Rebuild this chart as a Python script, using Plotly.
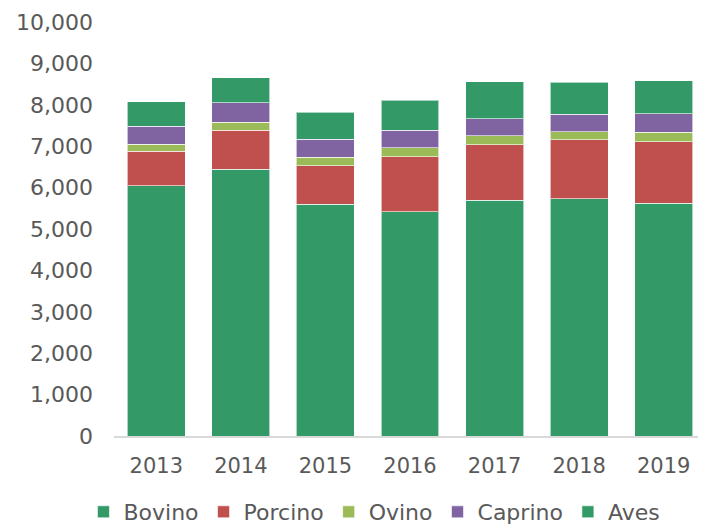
import plotly.graph_objects as go

years = ["2013", "2014", "2015", "2016", "2017", "2018", "2019"]
bovino = [6039, 6449, 5597, 5418, 5700, 5725, 5621]
porcino = [845, 942, 932, 1328, 1336, 1425, 1488]
ovino = [162, 186, 203, 211, 218, 200, 234]
caprino = [435, 474, 435, 434, 410, 421, 435]
aves = [594, 604, 652, 718, 894, 772, 804]

series = [
    ("Bovino", bovino, "#339966"),
    ("Porcino", porcino, "#C0504D"),
    ("Ovino", ovino, "#9BBB59"),
    ("Caprino", caprino, "#8064A2"),
    ("Aves", aves, "#339966"),
]

FONT = "DejaVu Sans"
TXT = "#595959"

fig = go.Figure()
for name, vals, col in series:
    fig.add_trace(go.Bar(
        x=years, y=vals, name=name,
        marker=dict(color=col, line=dict(color="rgba(255,255,255,0.6)", width=1)),
    ))

fig.update_layout(
    barmode="stack",
    bargap=0.315,
    width=698, height=525,
    margin=dict(l=106, r=0, t=14, b=97, autoexpand=False),
    plot_bgcolor="white", paper_bgcolor="white",
    font=dict(family=FONT, size=22, color=TXT),
    showlegend=True,
    legend=dict(
        orientation="h", traceorder="normal",
        xref="container", yref="container",
        x=0.525, xanchor="center", y=0.0, yanchor="bottom",
        font=dict(family=FONT, size=22, color=TXT),
        itemclick=False,
    ),
)
fig.update_xaxes(
    type="category", showgrid=False, showline=True, linecolor="#D9D9D9", linewidth=1.5,
    ticks="", ticklabelstandoff=10, automargin=False,
    tickfont=dict(family=FONT, size=21, color=TXT),
)
fig.update_yaxes(
    range=[0, 10000], dtick=1000, tickformat=",d", showgrid=False, showline=False,
    zeroline=False, ticks="", ticklabelstandoff=20, automargin=False,
    tickfont=dict(family=FONT, size=22, color=TXT),
)

fig.write_html("out.html")
